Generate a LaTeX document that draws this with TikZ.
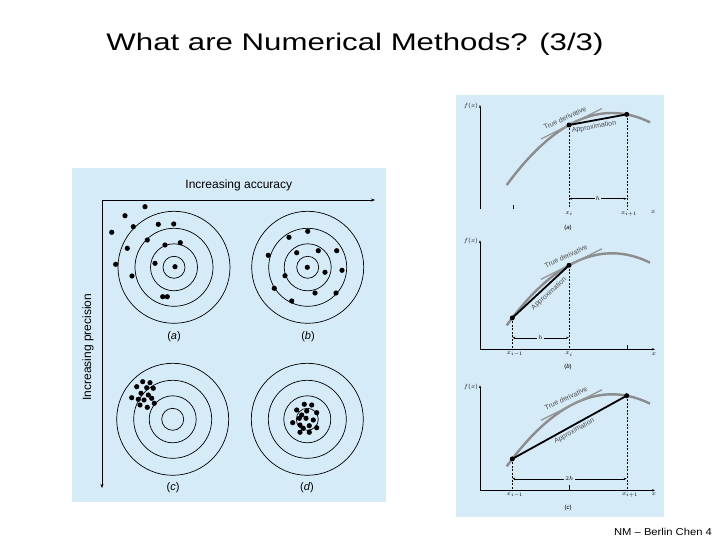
\documentclass[tikz,border=0pt]{standalone}
\usepackage{fontspec}
\setmainfont{Liberation Sans}
\usetikzlibrary{arrows.meta}
\definecolor{panelbg}{RGB}{214,235,248}
\definecolor{curvegray}{RGB}{140,140,140}
\definecolor{tangray}{RGB}{150,150,150}
\definecolor{txtgray}{RGB}{75,75,75}
\begin{document}
\begin{tikzpicture}[x=1pt,y=-1pt,line join=round,
  panel/.style={fill=panelbg,draw=none},
  ring/.style={draw=black,line width=0.7pt},
  axisarrow/.style={draw=black,line width=0.5pt,-{Stealth[length=4pt,width=3pt]}},
  thinaxis/.style={draw=black,line width=0.45pt,-{Stealth[length=3pt,width=2.2pt]}},
  curveline/.style={draw=curvegray,line width=2.4pt},
  tangentline/.style={draw=tangray,line width=1.3pt},
  approxline/.style={draw=black,line width=1.8pt},
  guide/.style={draw=black,dash pattern=on 2pt off 1.5pt,line width=0.4pt},
  dimline/.style={draw=black,line width=0.4pt,{Stealth[length=3pt,width=2pt]}-{Stealth[length=3pt,width=2pt]}},
  lbl/.style={font=\fontsize{7}{8}\selectfont,text=txtgray,inner sep=0pt},
  tinylbl/.style={font=\fontsize{6}{7}\selectfont,inner sep=0pt},
  targetcap/.style={font=\fontsize{11}{13}\selectfont,inner sep=0pt},
  dotpt/.style={fill=black}]
\useasboundingbox (0,0) rectangle (720,540);

% title and footer
\node (title) [anchor=base] at (355,50.7) {\scalebox{1.3}[1]{\fontsize{24}{28}\selectfont What are Numerical Methods? (3/3)}};
\node (foot) [anchor=base] at (663,535.3) {\scalebox{1.12}[1]{\fontsize{10}{12}\selectfont NM – Berlin Chen 4}};

% ---------- left panel ----------
\fill[panel] (71.7,168.3) rectangle (386,501.7);
\node (acc) [font=\fontsize{12}{14}\selectfont] at (238.8,185.7) {Increasing accuracy};
\node (prec) [font=\fontsize{12}{14}\selectfont,rotate=90] at (88,347) {Increasing precision};
\coordinate (o) at (102,200);
\coordinate (accend) at (375,200);
\coordinate (precend) at (102,488);
\draw[axisarrow] (o) -- (accend);
\draw[axisarrow] (o) -- (precend);

\foreach \cx/\cy in {174/267.3, 307.7/267.3, 172.7/419.3, 307.3/419.3}{
  \foreach \r in {11,23.5,39,56}{\draw[ring] (\cx,\cy) circle (\r pt);}
}
\node (la) [targetcap] at (174,337) {(\textit{a})};
\node (lb) [targetcap] at (308,337) {(\textit{b})};
\node (lc) [targetcap] at (173,488) {(\textit{c})};
\node (ld) [targetcap] at (307,488) {(\textit{d})};

% shots (a)
\foreach \p in {(145,206.7),(125,215.7),(133.3,226.7),(158.3,224.3),(173.7,224),(111.7,232.3),(147.3,240),(127.3,248.3),(165,245),(180.3,242.7),(115.7,264.3),(155,263.3),(175,266.7),(132,276),(162.7,296.7),(167.3,296.7)}
  {\fill[dotpt] \p circle (2.6pt);}
% shots (b)
\foreach \p in {(307.7,231.3),(289,237.3),(268.3,255.3),(296.7,252.7),(318.3,250.7),(336.7,250.7),(307.3,267.3),(325,272.3),(342,270.3),(285,275.7),(274.3,288.3),(315,293),(336,293),(291.7,301)}
  {\fill[dotpt] \p circle (2.6pt);}
% shots (c)
\foreach \p in {(142.7,381.7),(150,382.7),(136.7,386.7),(146.7,387.7),(153.3,388.3),(141,393.3),(148.3,395),(131.7,397.7),(138.3,399.3),(144,400),(151.7,398.3),(140,405),(147.3,407.3),(154.3,403.3)}
  {\fill[dotpt] \p circle (2.6pt);}
% shots (d)
\foreach \p in {(304.3,404.3),(311.7,405),(296.7,410),(306.7,411),(316.7,412.7),(301.7,415),(299.3,418.3),(306,418.3),(313.3,420),(292.7,422.7),(300,425),(309.3,425.7),(316.7,427.7),(303.3,428.3),(300,432.3),(309.3,432.3)}
  {\fill[dotpt] \p circle (2.6pt);}

% ---------- right panel ----------
\fill[panel] (456,95) rectangle (664,517);

% (a) forward difference
\begin{scope}[shift={(480,209)},yscale=-1]
  \coordinate (ay0) at (0,0);
  \coordinate (ay1) at (0,104);
  \draw[thinaxis] (ay0) -- (ay1);
  \node (afx) [tinylbl] at (-9,103) {$f(x)$};
  \draw[black,line width=0.4pt] (33,0) -- (33,4);
  \draw[curveline] plot[domain=26.7:170,samples=60] (\x,{96-0.0065*(\x-132)^2});
  \coordinate (at0) at (61,70);
  \coordinate (at1) at (122,100.5);
  \draw[tangentline] (at0) -- (at1);
  \coordinate (ai) at (89,84);
  \coordinate (aj) at (146.7,94.6);
  \coordinate (ai0) at (89,0);
  \coordinate (aj0) at (146.7,0);
  \draw[guide] (ai) -- (ai0);
  \draw[guide] (aj) -- (aj0);
  \draw[approxline] (ai) -- (aj);
  \fill[dotpt] (ai) circle (2.5pt);
  \fill[dotpt] (aj) circle (2.5pt);
  \coordinate (ah0) at (89,10.3);
  \coordinate (ah1) at (146.7,10.3);
  \draw[dimline] (ah0) -- (ah1) node (ah) [midway,tinylbl,fill=panelbg,inner sep=1pt] {$h$};
  \node (axi) [tinylbl] at (89,-5) {$x_i$};
  \node (axj) [tinylbl] at (149,-5) {$x_{i+1}$};
  \node (ax) [tinylbl] at (173.3,-3) {$x$};
  \node (acap) [tinylbl] at (88,-19) {(\textit{a})};
  \node (atd) [lbl,rotate=25] at (85,91) {True derivative};
  \node (aap) [lbl,rotate=10] at (114,82) {Approximation};
\end{scope}

% (b) backward difference
\begin{scope}[shift={(480,349.3)},yscale=-1]
  \coordinate (by0) at (0,0);
  \coordinate (by1) at (0,109);
  \coordinate (bx1) at (175,0);
  \draw[thinaxis] (by0) -- (by1);
  \draw[thinaxis] (by0) -- (bx1);
  \node (bfx) [tinylbl] at (-9,108) {$f(x)$};
  \draw[black,line width=0.4pt] (146.7,0) -- (146.7,4);
  \draw[curveline] plot[domain=26.7:170,samples=60] (\x,{96-0.0065*(\x-132)^2});
  \coordinate (bt0) at (61,70);
  \coordinate (bt1) at (122,100.5);
  \draw[tangentline] (bt0) -- (bt1);
  \coordinate (bk) at (32.3,31.4);
  \coordinate (bi) at (89,84);
  \coordinate (bk0) at (32.3,0);
  \coordinate (bi0) at (89,0);
  \draw[guide] (bk) -- (bk0);
  \draw[guide] (bi) -- (bi0);
  \draw[approxline] (bk) -- (bi);
  \fill[dotpt] (bk) circle (2.5pt);
  \fill[dotpt] (bi) circle (2.5pt);
  \coordinate (bh0) at (32.3,11.6);
  \coordinate (bh1) at (89,11.6);
  \draw[dimline] (bh0) -- (bh1) node (bh) [midway,tinylbl,fill=panelbg,inner sep=1pt] {$h$};
  \node (bxk) [tinylbl] at (35,-5) {$x_{i-1}$};
  \node (bxi) [tinylbl] at (89,-5) {$x_i$};
  \node (bx) [tinylbl] at (174,-5) {$x$};
  \node (bcap) [tinylbl] at (88,-17.4) {(\textit{b})};
  \node (btd) [lbl,rotate=25] at (86,93) {True derivative};
  \node (bap) [lbl,rotate=42] at (69,55.5) {Approximation};
\end{scope}

% (c) centered difference
\begin{scope}[shift={(480,490.3)},yscale=-1]
  \coordinate (cy0) at (0,0);
  \coordinate (cy1) at (0,105);
  \coordinate (cx1) at (175,0);
  \draw[thinaxis] (cy0) -- (cy1);
  \draw[thinaxis] (cy0) -- (cx1);
  \node (cfx) [tinylbl] at (-9,103) {$f(x)$};
  \draw[black,line width=0.4pt] (89,0) -- (89,5);
  \draw[curveline] plot[domain=26.7:170,samples=60] (\x,{96-0.0065*(\x-132)^2});
  \coordinate (ct0) at (61,70);
  \coordinate (ct1) at (122,100.5);
  \draw[tangentline] (ct0) -- (ct1);
  \coordinate (ck) at (32.3,31.4);
  \coordinate (cj) at (146.7,94.6);
  \coordinate (ck0) at (32.3,0);
  \coordinate (cj0) at (146.7,0);
  \draw[guide] (ck) -- (ck0);
  \draw[guide] (cj) -- (cj0);
  \draw[approxline] (ck) -- (cj);
  \fill[dotpt] (ck) circle (2.5pt);
  \fill[dotpt] (cj) circle (2.5pt);
  \coordinate (ch0) at (32.3,11.6);
  \coordinate (ch1) at (146.7,11.6);
  \draw[dimline] (ch0) -- (ch1) node (ch) [midway,tinylbl,fill=panelbg,inner sep=1pt] {$2h$};
  \node (cxk) [tinylbl] at (35,-5) {$x_{i-1}$};
  \node (cxj) [tinylbl] at (150,-5) {$x_{i+1}$};
  \node (cx) [tinylbl] at (174,-4) {$x$};
  \node (ccap) [tinylbl] at (88,-17.7) {(\textit{c})};
  \node (ctd) [lbl,rotate=25] at (86,92) {True derivative};
  \node (cappr) [lbl,rotate=29] at (94.4,59.4) {Approximation};
\end{scope}
\end{tikzpicture}
\end{document}
